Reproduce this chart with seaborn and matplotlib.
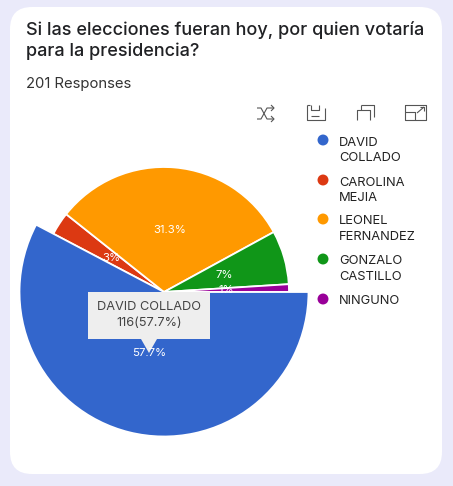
import matplotlib
matplotlib.use('Agg')
import matplotlib.pyplot as plt
from matplotlib.patches import FancyBboxPatch, Polygon, Rectangle
import pandas as pd
import seaborn as sns

title_text = 'Si las elecciones fueran hoy, por quien votaría\npara la presidencia?'
responses_text = '201 Responses'
categories = ['DAVID\nCOLLADO', 'CAROLINA\nMEJIA', 'LEONEL\nFERNANDEZ', 'GONZALO\nCASTILLO', 'NINGUNO']
votes = [116, 6, 63, 14, 2]
colors = ['#3366CC', '#DC3912', '#FF9900', '#109618', '#990099']

H = 486
def py(y):
    # pixel row from the top -> axes coordinate
    return H - y

sns.set_theme(style='white')
plt.rcParams['font.family'] = ['Inter', 'DejaVu Sans']

fig = plt.figure(figsize=(4.53, 4.86), dpi=100, facecolor='#EAEAFA')
ax = fig.add_axes([0, 0, 1, 1])

# white card
ax.add_patch(FancyBboxPatch((10 + 22, py(474) + 22), 432 - 44, 467 - 44,
                            boxstyle='round,pad=22,rounding_size=22',
                            fc='white', ec='none', zorder=0))

# pie, the hovered slice is drawn bigger
center = (164, py(292))
wedges, texts, autotexts = ax.pie(
    votes, colors=colors, startangle=0, counterclock=False, center=center, radius=125,
    autopct=lambda p: f'{round(p, 1):g}%', pctdistance=0.5,
    wedgeprops={'edgecolor': 'white', 'linewidth': 1.3},
    textprops={'color': '#FFFFFF', 'fontsize': 8.2})
wedges[0].set_radius(144.5)
wedges[0].set_zorder(3)
for t in autotexts:
    t.set_zorder(8)

# legend dots through seaborn
legend_df = pd.DataFrame({'name': categories,
                          'x': [323] * 5,
                          'y': [py(v) for v in (140, 180, 219, 259, 299)]})
sns.scatterplot(data=legend_df, x='x', y='y', hue='name', palette=colors, s=62,
                linewidth=0, legend=False, ax=ax, zorder=5)
for row in legend_df.itertuples():
    ax.text(339, row.y + 3.5, row.name, fontsize=9.3, color='#222222', va='top', ha='left',
            linespacing=1.43, zorder=5)

# tooltip
ax.add_patch(Rectangle((88, py(339)), 122, 47, fc='#EEEEEE', ec='none', zorder=6))
ax.add_patch(Polygon([(141, py(339)), (157, py(339)), (149, py(353))], fc='#EEEEEE', ec='none', zorder=6))
ax.text(149, py(315), 'DAVID COLLADO\n116(57.7%)', fontsize=9.2, color='#444444', ha='center', va='center',
        linespacing=1.38, zorder=7)

# titles
ax.text(26, py(21), title_text, fontsize=13, fontweight='medium', color='#202124', va='top', ha='left',
        linespacing=1.3)
ax.text(26, py(84), responses_text, fontsize=10.7, color='#333333', va='center', ha='left')

# toolbar icons
ic = {'color': '#555555', 'lw': 0.8, 'zorder': 5, 'solid_capstyle': 'butt'}
def line(xs, ys):
    ax.plot(xs, [py(v) for v in ys], **ic)
# shuffle
line([257, 261, 267, 274], [108, 108, 119, 119])
line([257, 261, 267, 274], [119, 119, 108, 108])
line([271, 274, 271], [105, 108, 111])
line([271, 274, 271], [116, 119, 122])
# save
line([307, 307, 325, 325], [105, 120, 120, 108])
line([307, 310], [105, 105])
line([311, 311, 319, 319], [105, 110, 110, 105])
line([311, 319], [116, 116])
# copy
line([357, 357, 370, 370], [120, 110, 110, 120])
line([361, 374, 374], [105, 105, 117])
line([361, 361], [105, 110])
# expand
line([405, 405, 426, 426, 405], [105, 120, 120, 105, 105])
line([405, 415, 415], [112, 112, 120])
line([417, 424], [113, 107])
line([420, 424, 424], [107, 107, 111])

ax.set_xlim(0, 453)
ax.set_ylim(0, H)
ax.set_aspect('auto')
ax.axis('off')

fig.savefig('out.png', dpi=100, facecolor=fig.get_facecolor())
